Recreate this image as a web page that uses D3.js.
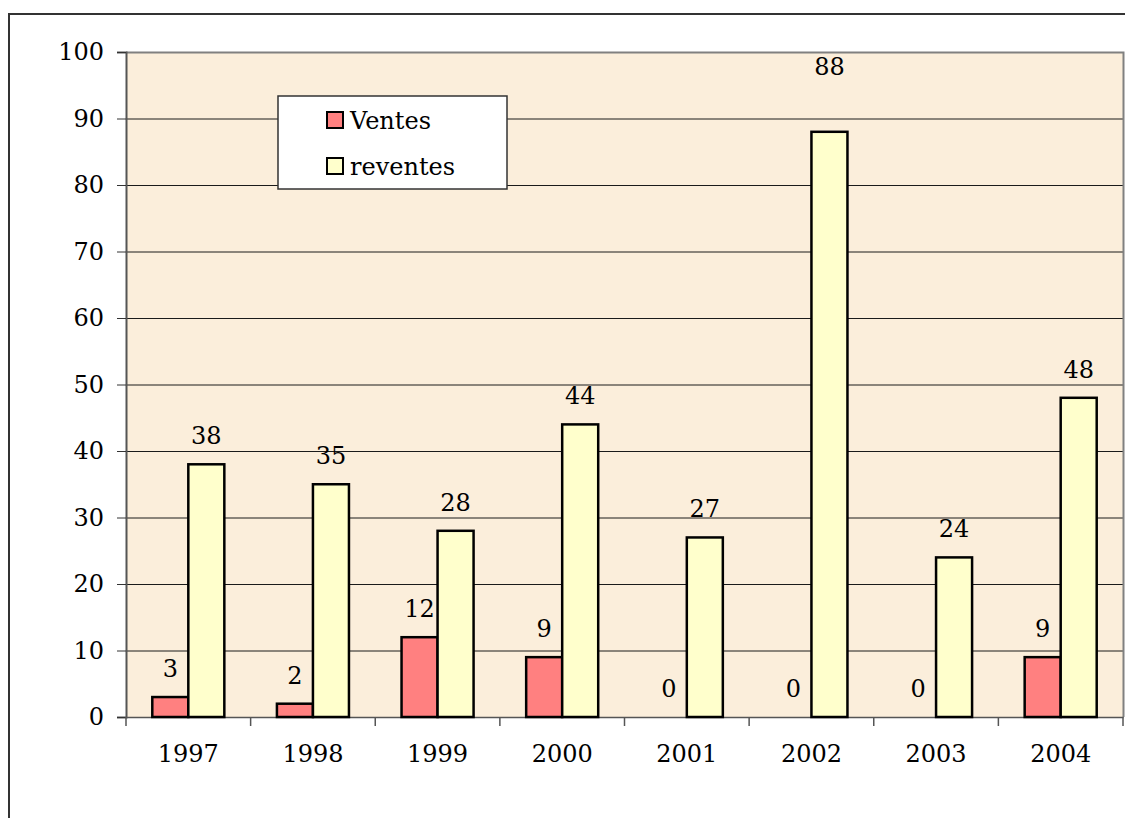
<!DOCTYPE html>
<html>
<head>
<meta charset="utf-8">
<script src="https://cdn.jsdelivr.net/npm/d3@7"></script>
<style>
  body { margin: 0; background: #fff; }
  svg { display: block; }
  text { font-family: "DejaVu Serif", "Liberation Serif", serif; fill: #000; }
</style>
</head>
<body>
<svg id="chart" width="1125" height="818"></svg>
<script>
// chart data
var years = ['1997', '1998', '1999', '2000', '2001', '2002', '2003', '2004']
var ventes = [3, 2, 12, 9, 0, 0, 0, 9]
var reventes = [38, 35, 28, 44, 27, 88, 24, 48]
var seriesNames = ['Ventes', 'reventes']
var seriesColors = ['#ff8080', '#ffffcc']
var yTicks = [0, 10, 20, 30, 40, 50, 60, 70, 80, 90, 100]

var svg = d3.select('#chart')
var plot = { left: 126, right: 1123, top: 52, bottom: 717 }
var fontSize = '24px'

// outer frame (runs off the picture to the right and bottom)
svg.append('rect')
  .attr('x', 9).attr('y', 14).attr('width', 1140).attr('height', 830)
  .attr('fill', 'none').attr('stroke', '#333').attr('stroke-width', 2)

var x = d3.scaleBand().domain(years).range([plot.left, plot.right])
var x1 = d3.scaleBand().domain(seriesNames).range([0, x.bandwidth()]).paddingInner(0).paddingOuter(0.73)
var y = d3.scaleLinear().domain([0, 100]).range([plot.bottom, plot.top])

// plot background
svg.append('rect')
  .attr('x', plot.left).attr('y', plot.top)
  .attr('width', plot.right - plot.left).attr('height', plot.bottom - plot.top)
  .attr('fill', '#fbeedb')

// gridlines
svg.append('g').selectAll('line').data(yTicks.filter(function (d) { return d > 0 && d < 100 }))
  .enter().append('line')
  .attr('x1', plot.left).attr('x2', plot.right)
  .attr('y1', function (d) { return y(d) + 0.5 }).attr('y2', function (d) { return y(d) + 0.5 })
  .attr('stroke', '#1a1a1a').attr('stroke-width', 1)

// top and right border
svg.append('path')
  .attr('d', 'M' + plot.left + ',' + (plot.top + 0.5) + 'H' + (plot.right + 0.5) + 'V' + plot.bottom)
  .attr('fill', 'none').attr('stroke', '#808080').attr('stroke-width', 2)

// y axis
var yAxis = svg.append('g').attr('transform', 'translate(' + plot.left + ',0)')
  .call(d3.axisLeft(y).tickValues(yTicks).tickSize(9).tickPadding(13))
yAxis.select('.domain').attr('stroke', '#555').attr('stroke-width', 2)
yAxis.selectAll('.tick line').attr('stroke', '#333')
yAxis.selectAll('.tick text').style('font-size', fontSize).attr('font-family', null)

// x axis
var xAxis = svg.append('g').attr('transform', 'translate(0,' + plot.bottom + ')')
  .call(d3.axisBottom(x).tickSize(0).tickPadding(28))
xAxis.select('.domain').attr('stroke', '#555').attr('stroke-width', 1.5)
xAxis.selectAll('.tick text').style('font-size', fontSize).attr('font-family', null)
xAxis.append('g').selectAll('line').data(years.concat(['end']))
  .enter().append('line')
  .attr('x1', function (d, i) { return plot.left + i * x.step() })
  .attr('x2', function (d, i) { return plot.left + i * x.step() })
  .attr('y1', 0).attr('y2', 9)
  .attr('stroke', '#555').attr('stroke-width', 1.5)

// bars
var rows = years.map(function (yr, i) {
  return { year: yr, values: [{ key: 'Ventes', v: ventes[i] }, { key: 'reventes', v: reventes[i] }] }
})
var groups = svg.append('g').selectAll('g').data(rows).enter().append('g')
  .attr('transform', function (d) { return 'translate(' + x(d.year) + ',0)' })

groups.selectAll('rect').data(function (d) { return d.values.filter(function (e) { return e.v > 0 }) })
  .enter().append('rect')
  .attr('x', function (d) { return x1(d.key) })
  .attr('y', function (d) { return y(d.v) })
  .attr('width', x1.bandwidth())
  .attr('height', function (d) { return plot.bottom - y(d.v) })
  .attr('fill', function (d) { return seriesColors[seriesNames.indexOf(d.key)] })
  .attr('stroke', '#000').attr('stroke-width', 2.5)

// value labels; a label that would sit too close to the top gets pushed up to the frame
groups.selectAll('text').data(function (d) { return d.values })
  .enter().append('text')
  .attr('x', function (d) { return x1(d.key) + x1.bandwidth() / 2 })
  .attr('y', function (d) { return d.v > 80 ? plot.top + 23 : y(d.v) - 20 })
  .attr('text-anchor', 'middle')
  .style('font-size', fontSize)
  .text(function (d) { return d.v })

// legend
var legend = svg.append('g').attr('transform', 'translate(278,96)')
legend.append('rect').attr('width', 229).attr('height', 93)
  .attr('fill', '#fff').attr('stroke', '#333').attr('stroke-width', 1.5)
var items = legend.selectAll('g.item').data(seriesNames).enter().append('g')
  .attr('transform', function (d, i) { return 'translate(49,' + (16 + i * 46) + ')' })
items.append('rect').attr('width', 16).attr('height', 16)
  .attr('fill', function (d, i) { return seriesColors[i] })
  .attr('stroke', '#000').attr('stroke-width', 2)
items.append('text').attr('x', 23).attr('y', 17)
  .style('font-size', fontSize)
  .text(function (d) { return d })
</script>
</body>
</html>
